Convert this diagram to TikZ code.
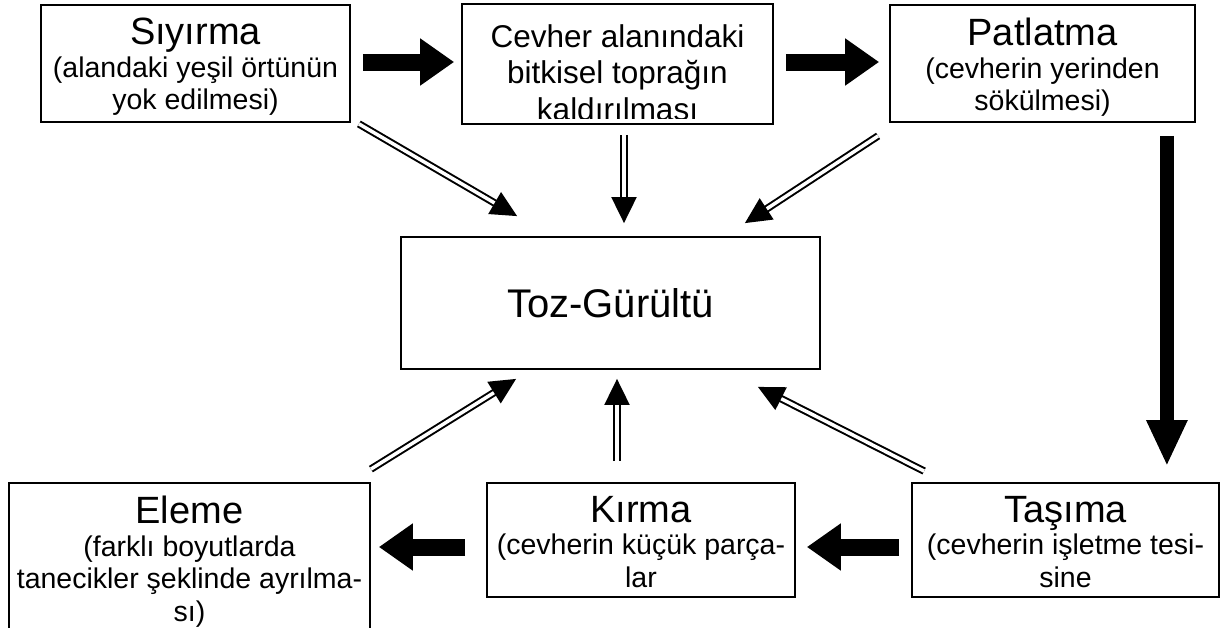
\documentclass[tikz,border=0pt]{standalone}
\usepackage{fontspec}
\setmainfont{Liberation Sans}
\usetikzlibrary{arrows.meta,positioning}
\newcommand\baslik{\fontsize{38}{32.5}\selectfont}

\begin{document}
\begin{tikzpicture}[x=1pt,y=-1pt,
	kutu/.style={draw,line width=1.8pt,inner sep=0pt},
	yazi/.style={align=center,inner sep=0pt,anchor=north,font=\fontsize{28.5}{32.5}\selectfont},
	kalin/.style={line width=17pt,-{Triangle[length=34pt,width=45pt]}},
	ikili/.style={double,double distance=3.5pt,line width=2pt,-{Triangle[length=26pt,width=25pt]}}]

	\clip (0,0) rectangle (1221,627);

	% kutular
	\node[kutu,minimum width=309pt,minimum height=117pt] (siy) at (195.5,63.5) {};
	\node[kutu,minimum width=311pt,minimum height=120pt] (cev) at (617.5,64) {};
	\node[kutu,minimum width=305pt,minimum height=117pt] (pat) at (1042.5,63.5) {};
	\node[kutu,minimum width=419pt,minimum height=132pt,font=\fontsize{40}{44}\selectfont] (toz) at (610.5,303) {Toz-Gürültü};
	\node[kutu,minimum width=361pt,minimum height=160pt] (ele) at (189.5,563) {};
	\node[kutu,minimum width=308pt,minimum height=114pt] (kir) at (641,540) {};
	\node[kutu,minimum width=307pt,minimum height=114pt] (tas) at (1065.5,540) {};

	% yazilar
	\begin{scope}
		\clip ([yshift=7pt]siy.south west) rectangle (siy.north east);
		\node[yazi] (siyy) at ([yshift=-14pt]siy.north) {{\baslik Sıyırma}\\(alandaki yeşil örtünün\\yok edilmesi)};
	\end{scope}
	\begin{scope}
		\clip ([yshift=6pt]cev.south west) rectangle (cev.north east);
		\node[yazi,font=\fontsize{31.5}{36.5}\selectfont] (cevy) at ([yshift=-21pt]cev.north) {Cevher alanındaki\\bitkisel toprağın\\kaldırılması};
	\end{scope}
	\begin{scope}
		\clip ([yshift=7pt]pat.south west) rectangle (pat.north east);
		\node[yazi] (paty) at ([yshift=-14pt]pat.north) {{\baslik Patlatma}\\(cevherin yerinden\\sökülmesi)};
	\end{scope}
	\node[yazi] (eley) at ([yshift=-14pt]ele.north) {{\baslik Eleme}\\(farklı boyutlarda\\tanecikler şeklinde ayrılma-\\sı)};
	\node[yazi] (kiry) at ([yshift=-14pt]kir.north) {{\baslik Kırma}\\(cevherin küçük parça-\\lar};
	\node[yazi] (tasy) at ([yshift=-14pt]tas.north) {{\baslik Taşıma}\\(cevherin işletme tesi-\\sine};

	% kalin oklar
	\draw[kalin] ([xshift=12pt,yshift=1.5pt]siy.east) -- ([xshift=-7pt,yshift=1.5pt]siy.east -| cev.west);
	\draw[kalin] ([xshift=12pt,yshift=2pt]cev.east) -- ([xshift=-10pt,yshift=2pt]cev.east -| pat.west);
	\coordinate (d1) at ([xshift=-29pt,yshift=-13pt]pat.south east);
	\draw[kalin,line width=14pt,-{Triangle[length=46pt,width=38pt]}] (d1) -- ([yshift=16pt]d1 |- tas.north);
	\draw[kalin] ([xshift=-12pt,yshift=-7pt]tas.west) -- ([xshift=11pt,yshift=-7pt]tas.west -| kir.east);
	\draw[kalin] ([xshift=-21pt,yshift=-7pt]kir.west) -- ([xshift=8pt,yshift=-7pt]kir.west -| ele.east);

	% cift cizgili oklar
	\draw[ikili] ([xshift=8pt,yshift=-1pt]siy.south east) -- ([xshift=117pt,yshift=20pt]toz.north west);
	\draw[ikili] ([xshift=6.5pt,yshift=-10pt]cev.south) -- ([xshift=13.5pt,yshift=13pt]toz.north);
	\draw[ikili] ([xshift=-11pt,yshift=-13pt]pat.south west) -- ([xshift=-76pt,yshift=13pt]toz.north east);
	\draw[ikili] ([yshift=13pt]ele.north east) -- ([xshift=116pt,yshift=-9pt]toz.south west);
	\draw[ikili] ([xshift=-24pt,yshift=21pt]kir.north) -- ([xshift=6.5pt,yshift=-9pt]toz.south);
	\draw[ikili] ([xshift=13pt,yshift=11pt]tas.north west) -- ([xshift=-63pt,yshift=-17pt]toz.south east);
\end{tikzpicture}
\end{document}
